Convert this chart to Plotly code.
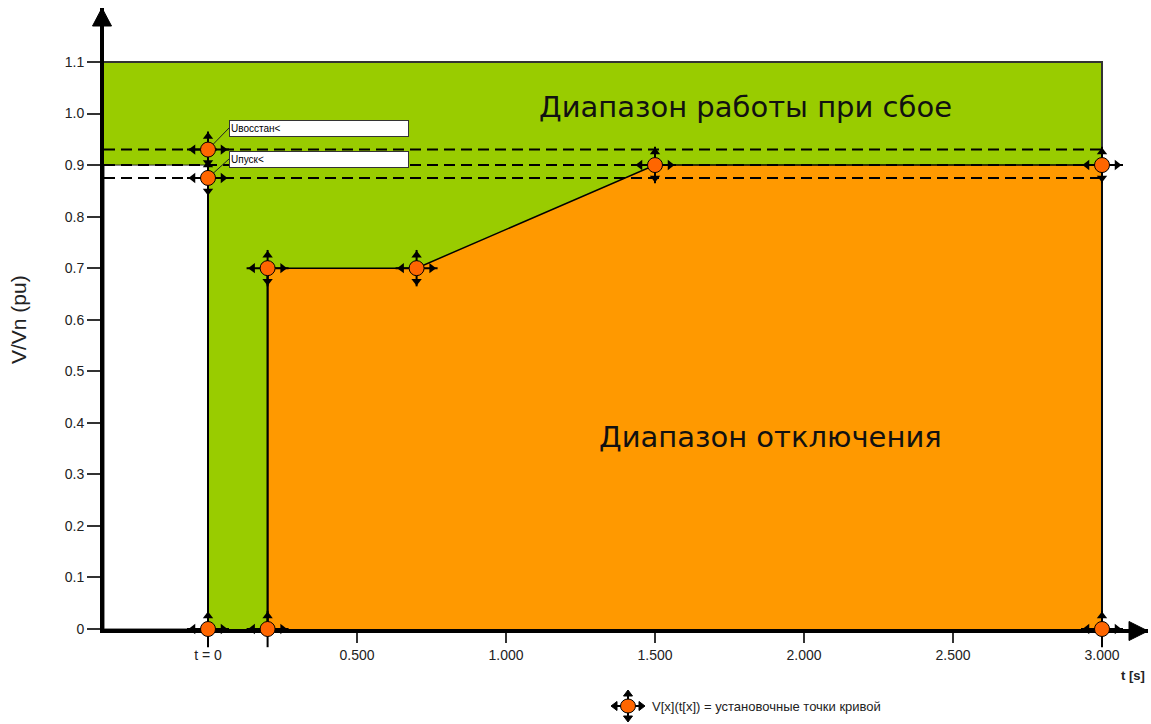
import plotly.graph_objects as go

# ---------------- data ----------------
ytick_vals = [0, 0.1, 0.2, 0.3, 0.4, 0.5, 0.6, 0.7, 0.8, 0.9, 1.0, 1.1]
ytick_text = ["0", "0.1", "0.2", "0.3", "0.4", "0.5", "0.6", "0.7", "0.8", "0.9", "1.0", "1.1"]
xtick_vals = [0, 0.5, 1.0, 1.5, 2.0, 2.5, 3.0]
xtick_text = ["t = 0", "0.500", "1.000", "1.500", "2.000", "2.500", "3.000"]

curve_t = [0.2, 0.2, 0.7, 1.5, 3.0, 3.0]        # curve set points t[x]
curve_v = [0.0, 0.7, 0.7, 0.9, 0.9, 0.0]        # curve set points V[x]
start_t = [0.0, 0.0, 0.0]                      # set points at t = 0
start_v = [0.0, 0.875, 0.93]
u_restore = 0.93      # Uвосстан<
u_start = 0.875       # Uпуск<
v_level = 0.9
v_max = 1.1
t_end = 3.0

label_restore = "Uвосстан<"
label_start = "Uпуск<"
region_top = "Диапазон работы при сбое"
region_bottom = "Диапазон отключения"
legend_text = "V[x](t[x]) = установочные точки кривой"

# ---------------- layout geometry ----------------
W, H = 1151, 724
ML, MR, MT, MB = 104, 3, 8, 95
PX_X = 298.0
PX_Y = 515.5
PW, PH = W - ML - MR, H - MT - MB
X0_PX = 208          # pixel of t = 0
Y0_PX = MT + PH      # pixel of V = 0 (plot bottom)
X_RANGE = [(ML - X0_PX) / PX_X, (ML + PW - X0_PX) / PX_X]
Y_RANGE = [0.0, (Y0_PX - MT) / PX_Y]
FONT = "Liberation Sans, Arial, sans-serif"
BIGFONT = "DejaVu Sans, Liberation Sans, sans-serif"

GREEN = "#99CC00"
ORANGE = "#FF9900"
DOT = "#FF6600"


def px2x(px):
    return (px - X0_PX) / PX_X


def px2y(py):
    return (Y0_PX - py) / PX_Y


def paper_x(px):
    return (px - ML) / PW


def paper_y(py):
    return (MT + PH - py) / PH


fig = go.Figure()

# green region (operation during fault)
fig.add_trace(go.Scatter(
    x=[X_RANGE[0], t_end, t_end, X_RANGE[0], X_RANGE[0]],
    y=[0, 0, v_max, v_max, 0],
    fill="toself", fillcolor=GREEN, mode="none", hoverinfo="skip"))
# white region left of t=0
fig.add_trace(go.Scatter(
    x=[X_RANGE[0], 0, 0, X_RANGE[0], X_RANGE[0]],
    y=[0, 0, v_level, v_level, 0],
    fill="toself", fillcolor="white", mode="lines",
    line=dict(color="#222", width=1), hoverinfo="skip"))
# orange region (trip)
fig.add_trace(go.Scatter(
    x=curve_t + [curve_t[0]],
    y=curve_v + [curve_v[0]],
    fill="toself", fillcolor=ORANGE, mode="none", hoverinfo="skip"))

# top border of green area and right edge
fig.add_trace(go.Scatter(x=[X_RANGE[0], t_end, t_end], y=[v_max, v_max, 0],
                         mode="lines", line=dict(color="#333", width=2), hoverinfo="skip"))

# dashed levels
for lv in [u_restore, v_level, u_start]:
    fig.add_trace(go.Scatter(x=[X_RANGE[0], t_end], y=[lv, lv], mode="lines",
                             line=dict(color="black", width=2, dash="11px,6px"),
                             hoverinfo="skip"))

# curve outline
fig.add_trace(go.Scatter(x=curve_t, y=curve_v, mode="lines",
                         line=dict(color="black", width=1.5), hoverinfo="skip"))
fig.add_trace(go.Scatter(x=[start_t[0], start_t[1]], y=[start_v[0], start_v[1]], mode="lines",
                         line=dict(color="black", width=2), hoverinfo="skip"))
fig.add_trace(go.Scatter(x=[curve_t[0], curve_t[1]], y=[curve_v[0], curve_v[1]], mode="lines",
                         line=dict(color="black", width=2), hoverinfo="skip"))

# leader lines to labels
box_left = px2x(229)
box1_mid = px2y(128)
box2_mid = px2y(159)
fig.add_trace(go.Scatter(x=[0, box_left], y=[u_restore, box1_mid], mode="lines",
                         line=dict(color="#222", width=1), hoverinfo="skip"))
fig.add_trace(go.Scatter(x=[0, box_left], y=[u_start, box2_mid], mode="lines",
                         line=dict(color="#222", width=1), hoverinfo="skip"))


def add_setpoints(ts, vs):
    dx = 15 / PX_X
    dy = 13 / PX_Y
    common = dict(mode="markers", hoverinfo="skip", cliponaxis=False)
    fig.add_trace(go.Scatter(x=ts, y=vs, marker=dict(symbol="line-ew", size=30,
                  line=dict(color="black", width=2)), **common))
    fig.add_trace(go.Scatter(x=ts, y=vs, marker=dict(symbol="line-ns", size=26,
                  line=dict(color="black", width=2)), **common))
    fig.add_trace(go.Scatter(x=ts, y=[v + dy for v in vs], marker=dict(symbol="triangle-up", size=9,
                  color="black"), **common))
    fig.add_trace(go.Scatter(x=ts, y=[v - dy for v in vs], marker=dict(symbol="triangle-down", size=9,
                  color="black"), **common))
    fig.add_trace(go.Scatter(x=[t - dx for t in ts], y=vs, marker=dict(symbol="triangle-left", size=9,
                  color="black"), **common))
    fig.add_trace(go.Scatter(x=[t + dx for t in ts], y=vs, marker=dict(symbol="triangle-right", size=9,
                  color="black"), **common))
    fig.add_trace(go.Scatter(x=ts, y=vs, marker=dict(symbol="circle", size=15, color=DOT,
                  line=dict(color="black", width=1)), **common))


add_setpoints(start_t + curve_t, start_v + curve_v)


# legend icon below the chart (paper shapes, outside the axes)
def tri(points):
    pts = [f"{paper_x(px)} {paper_y(py)}" for px, py in points]
    return "M " + " L ".join(pts) + " Z"


cx, cy = 628, 706
fig.add_shape(type="line", xref="paper", yref="paper", x0=paper_x(cx - 13), x1=paper_x(cx + 13),
              y0=paper_y(cy), y1=paper_y(cy), line=dict(color="black", width=2))
fig.add_shape(type="line", xref="paper", yref="paper", x0=paper_x(cx), x1=paper_x(cx),
              y0=paper_y(cy - 11), y1=paper_y(cy + 11), line=dict(color="black", width=2))
for pts in [[(cx - 17, cy), (cx - 11, cy - 4.5), (cx - 11, cy + 4.5)],
            [(cx + 17, cy), (cx + 11, cy - 4.5), (cx + 11, cy + 4.5)],
            [(cx, cy - 16), (cx - 4.5, cy - 10), (cx + 4.5, cy - 10)],
            [(cx, cy + 16), (cx - 4.5, cy + 10), (cx + 4.5, cy + 10)]]:
    fig.add_shape(type="path", xref="paper", yref="paper", path=tri(pts),
                  fillcolor="black", line=dict(color="black", width=1))
fig.add_shape(type="circle", xref="paper", yref="paper", x0=paper_x(cx - 7.5), x1=paper_x(cx + 7.5),
              y0=paper_y(cy - 7), y1=paper_y(cy + 7), fillcolor=DOT, line=dict(color="black", width=1))

# arrowheads of axes (paper coordinates so they are not clipped)
fig.add_shape(type="path", xref="paper", yref="paper",
              path=tri([(1148, 631), (1129, 621.5), (1129, 640.5)]),
              fillcolor="black", line=dict(color="black", width=1), layer="above")
fig.add_shape(type="path", xref="paper", yref="paper",
              path=tri([(102, 8), (92.5, 26), (111.5, 26)]),
              fillcolor="black", line=dict(color="black", width=1), layer="above")

annotations = [
    dict(x=box_left, y=box1_mid, xref="x", yref="y", text=label_restore, showarrow=False,
         xanchor="left", yanchor="middle", align="left", width=176, height=13,
         bgcolor="white", bordercolor="#333", borderwidth=1, borderpad=1,
         font=dict(family=FONT, size=10, color="black")),
    dict(x=box_left, y=box2_mid, xref="x", yref="y", text=label_start, showarrow=False,
         xanchor="left", yanchor="middle", align="left", width=176, height=13,
         bgcolor="white", bordercolor="#333", borderwidth=1, borderpad=1,
         font=dict(family=FONT, size=10, color="black")),
    dict(x=px2x(745), y=px2y(107), xref="x", yref="y", xanchor="center", yanchor="middle",
         text=region_top, showarrow=False, font=dict(family=BIGFONT, size=29, color="#111")),
    dict(x=px2x(770), y=px2y(437), xref="x", yref="y", xanchor="center", yanchor="middle",
         text=region_bottom, showarrow=False, font=dict(family=BIGFONT, size=29, color="#111")),
    dict(x=paper_x(18), y=paper_y(320), xref="paper", yref="paper", text="V/Vn (pu)",
         xanchor="center", yanchor="middle",
         textangle=-90, showarrow=False, font=dict(family=FONT, size=21, color="#222")),
    dict(x=paper_x(1133), y=paper_y(676), xref="paper", yref="paper", text="<b>t [s]</b>",
         xanchor="center", yanchor="middle",
         showarrow=False, font=dict(family=FONT, size=13, color="#222")),
    dict(x=paper_x(650), y=paper_y(706), xref="paper", yref="paper", text=legend_text,
         xanchor="left", yanchor="middle", showarrow=False,
         font=dict(family=FONT, size=13, color="#222")),
]

fig.update_layout(
    width=W, height=H, margin=dict(l=ML, r=MR, t=MT, b=MB, autoexpand=False),
    paper_bgcolor="white", plot_bgcolor="white", showlegend=False,
    font=dict(family=FONT, size=13, color="#222"),
    annotations=annotations,
    xaxis=dict(range=X_RANGE, tickvals=xtick_vals, ticktext=xtick_text, showgrid=False,
               zeroline=False, showline=True, linewidth=4, linecolor="black",
               layer="below traces", ticks="outside", ticklen=10, tickwidth=2,
               tickcolor="#333", automargin=False,
               tickfont=dict(family=FONT, size=14, color="#222")),
    yaxis=dict(range=Y_RANGE, tickvals=ytick_vals, ticktext=ytick_text, showgrid=False,
               zeroline=False, showline=True, linewidth=4, linecolor="black",
               layer="below traces", ticks="outside", ticklen=13, tickwidth=2,
               tickcolor="#333", automargin=False,
               tickfont=dict(family=FONT, size=14, color="#222")),
)

fig.write_html("out.html", config={"displayModeBar": False},
               post_script="document.body.style.margin='0';document.body.style.overflow='hidden';")
